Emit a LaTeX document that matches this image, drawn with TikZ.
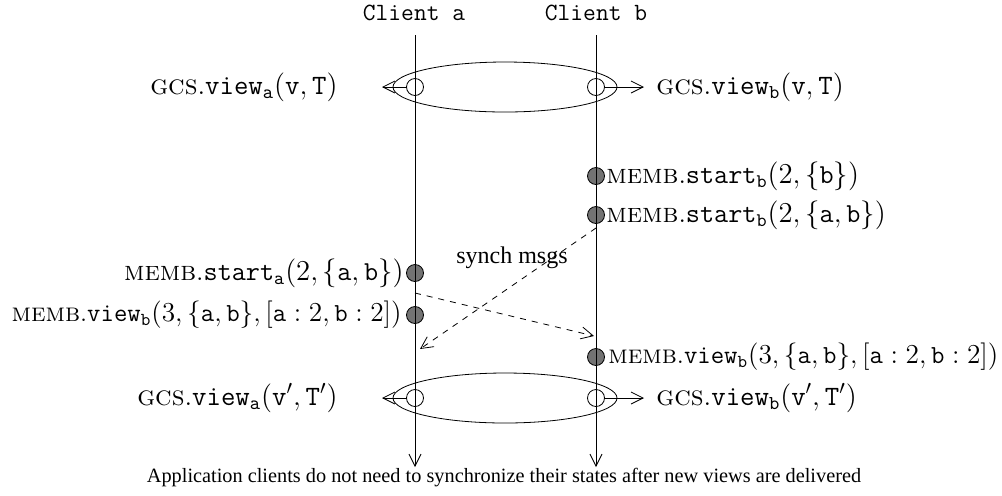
\documentclass[tikz,border=0pt]{standalone}
\usepackage{fontspec}
\usepackage{graphicx}
\newfontfamily\capfont{Liberation Serif}
\usetikzlibrary{arrows.meta}

\tikzset{
  opendot/.style={circle,draw,minimum size=8.5pt,inner sep=0},
  fulldot/.style={circle,draw,fill=black!55,minimum size=8.5pt,inner sep=0},
  lbl/.style={inner sep=0,font=\fontsize{13.7}{16}\selectfont},
  barb/.style={-{Straight Barb[length=6pt,width=6pt]}},
}
\newcommand{\membview}{\resizebox{195pt}{!}{\textsc{memb}.$\mathtt{view}_\mathtt{b}(3,\{\mathtt{a},\mathtt{b}\},[\mathtt{a}:2,\mathtt{b}:2])$}}

\begin{document}
\begin{tikzpicture}[x=0.5pt,y=-0.5pt]

\useasboundingbox (0,0) rectangle (1002,495);

% membership events
\node[fulldot] (sb1) at (596,176) {};
\node[fulldot] (sb2) at (596,215) {};
\node[fulldot] (sa) at (415,273) {};
\node[fulldot] (wa) at (415,315) {};
\node[fulldot] (wb) at (596,357) {};

% lifelines
\node[lbl,font=\fontsize{12.4}{14}\ttfamily] (ca) at (414,13) {Client a};
\node[lbl,font=\fontsize{12.4}{14}\ttfamily] (cb) at (596,13) {Client b};
\coordinate (atop) at (415,35);
\coordinate (btop) at (596,35);
\coordinate (abot) at (415,467);
\coordinate (bbot) at (596,467);
\draw[barb] (atop) -- (abot);
\draw[barb] (btop) -- (bbot);

% views
\draw (505,87) ellipse [x radius=112,y radius=25];
\draw (505,398) ellipse [x radius=112,y radius=25];

\node[opendot] (va1) at (415,87) {};
\node[opendot] (vb1) at (596,87) {};
\node[opendot] (va2) at (415,398) {};
\node[opendot] (vb2) at (596,398) {};

\node[lbl,anchor=east,font=\fontsize{14}{16}\selectfont] (gva1) at (338,87) {\textsc{gcs}.$\mathtt{view}_\mathtt{a}(\mathtt{v},\mathtt{T})$};
\node[lbl,anchor=west,font=\fontsize{14}{16}\selectfont] (gvb1) at (656,87) {\textsc{gcs}.$\mathtt{view}_\mathtt{b}(\mathtt{v},\mathtt{T})$};
\node[lbl,anchor=east,font=\fontsize{14}{16}\selectfont] (gva2) at (338,398) {\textsc{gcs}.$\mathtt{view}_\mathtt{a}(\mathtt{v}',\mathtt{T}')$};
\node[lbl,anchor=west,font=\fontsize{14}{16}\selectfont] (gvb2) at (656,398) {\textsc{gcs}.$\mathtt{view}_\mathtt{b}(\mathtt{v}',\mathtt{T}')$};

\draw[barb,shorten >=22] (va1.west) -- (gva1.east);
\draw[barb,shorten >=6] (vb1.east) -- (gvb1.west);
\draw[barb,shorten >=22] (va2.west) -- (gva2.east);
\draw[barb,shorten >=6] (vb2.east) -- (gvb2.west);

\node[lbl,anchor=west] at (606,176) {\textsc{memb}.$\mathtt{start}_\mathtt{b}(2,\{\mathtt{b}\})$};
\node[lbl,anchor=west] at (606,215) {\textsc{memb}.$\mathtt{start}_\mathtt{b}(2,\{\mathtt{a},\mathtt{b}\})$};
\node[lbl,anchor=east] at (404,273) {\textsc{memb}.$\mathtt{start}_\mathtt{a}(2,\{\mathtt{a},\mathtt{b}\})$};
\node[lbl,anchor=east] at (402,315) {\membview};
\node[lbl,anchor=west] at (608,357) {\membview};

% synch messages
\coordinate (mb) at (596,228);
\coordinate (ma) at (420,349);
\coordinate (na) at (415,293);
\coordinate (nb) at (594,336);
\draw[barb,dashed] (mb) -- (ma);
\draw[barb,dashed] (na) -- (nb);
\node[lbl,font=\capfont\fontsize{12}{14}\selectfont] (sm) at (512,258) {synch msgs};

\node[lbl,font=\capfont\fontsize{10.15}{12}\selectfont] (cap) at (504,478) {Application clients do not need to synchronize their states after new views are delivered};

\end{tikzpicture}
\end{document}
